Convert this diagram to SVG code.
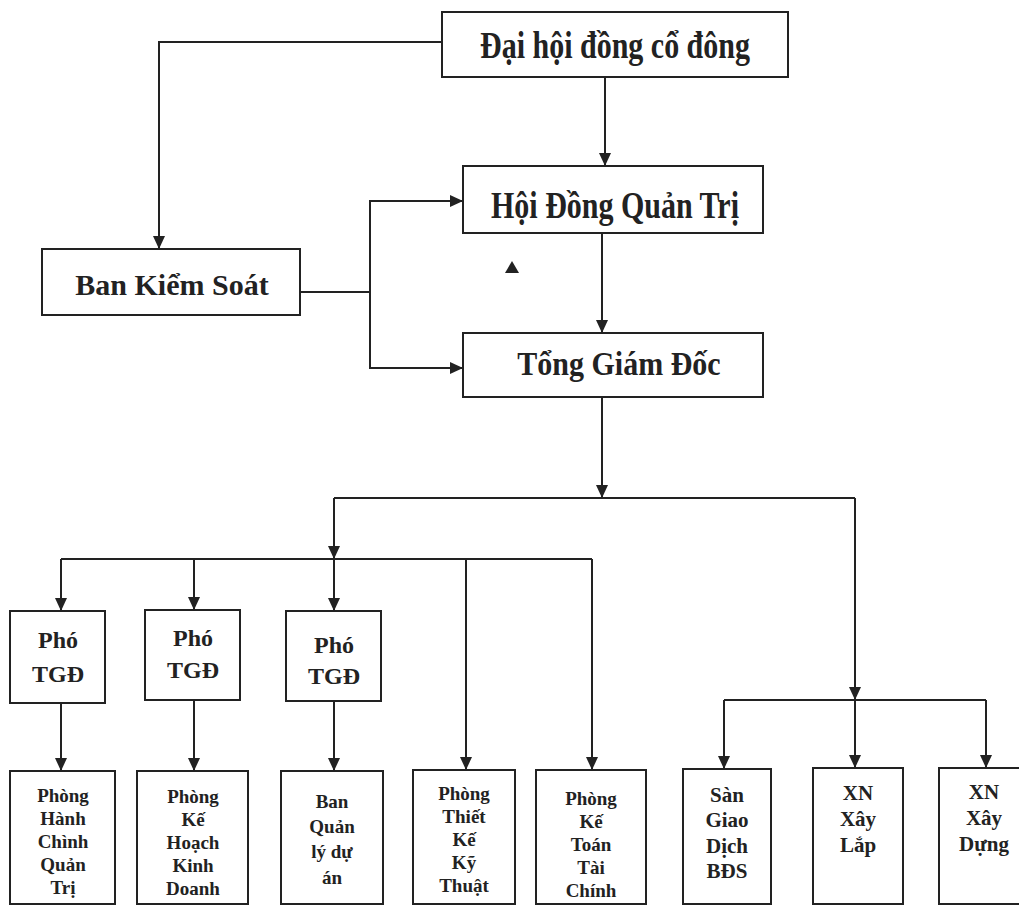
<svg xmlns="http://www.w3.org/2000/svg" width="1019" height="907" viewBox="0 0 1019 907">
<style>
rect{fill:#fff;stroke:#222;stroke-width:2}
.c path{fill:none;stroke:#222;stroke-width:2}
text{font-family:"Liberation Serif","Times New Roman",serif;font-weight:bold;fill:#222;text-anchor:middle}
.big{font-size:30px}
.mid{font-size:24px}
.sm{font-size:19px}
.sm2{font-size:21px}
</style>
<defs>
<marker id="ah" markerWidth="13" markerHeight="12" refX="13" refY="6" orient="auto" markerUnits="userSpaceOnUse"><path d="M0,0 L13,6 L0,12 Z" fill="#222"/></marker>
</defs>
<rect x="0" y="0" width="1019" height="907" style="stroke:none;fill:#fff"/>
<g class="c" id="connectors">
<path d="M442,42 H159 V249" marker-end="url(#ah)"/>
<path d="M605,77 V166" marker-end="url(#ah)"/>
<path d="M300,292 H370"/>
<path d="M370,292 V201 H463" marker-end="url(#ah)"/>
<path d="M370,292 V368 H463" marker-end="url(#ah)"/>
<path d="M602,233 V333" marker-end="url(#ah)"/>
<path d="M602,397 V498" marker-end="url(#ah)"/>
<path d="M334,498 H855"/>
<path d="M334,498 V559" marker-end="url(#ah)"/>
<path d="M61,559 H592"/>
<path d="M61,559 V611" marker-end="url(#ah)"/>
<path d="M194,559 V610" marker-end="url(#ah)"/>
<path d="M334,559 V611" marker-end="url(#ah)"/>
<path d="M466,559 V770" marker-end="url(#ah)"/>
<path d="M592,559 V770" marker-end="url(#ah)"/>
<path d="M61,703 V771" marker-end="url(#ah)"/>
<path d="M194,700 V771" marker-end="url(#ah)"/>
<path d="M334,701 V771" marker-end="url(#ah)"/>
<path d="M855,498 V700" marker-end="url(#ah)"/>
<path d="M724,700 H986"/>
<path d="M724,700 V769" marker-end="url(#ah)"/>
<path d="M855,700 V768" marker-end="url(#ah)"/>
<path d="M986,700 V768" marker-end="url(#ah)"/>
</g>
<polygon points="505,273 519,273 512,261" fill="#222"/>
<g id="dhcd"><rect x="442" y="12" width="346" height="65"/><text class="big" transform="translate(615,58) scale(1,1.25)">Đại hội đồng cổ đông</text></g>
<g id="hdqt"><rect x="463" y="166" width="300" height="67"/><text class="big" transform="translate(615,218) scale(1,1.25)">Hội Đồng Quản Trị</text></g>
<g id="tgd"><rect x="463" y="333" width="300" height="64"/><text class="big" transform="translate(619,375) scale(1,1.12)">Tổng Giám Đốc</text></g>
<g id="bks"><rect x="42" y="249" width="258" height="66"/><text class="big" x="172" y="295">Ban Kiểm Soát</text></g>
<g id="pho1"><rect x="10" y="611" width="95" height="92"/><text class="mid" x="58" y="648">Phó</text><text class="mid" x="58" y="682">TGĐ</text></g>
<g id="pho2"><rect x="145" y="610" width="95" height="90"/><text class="mid" x="193" y="646">Phó</text><text class="mid" x="193" y="678">TGĐ</text></g>
<g id="pho3"><rect x="286" y="611" width="95" height="90"/><text class="mid" x="334" y="653">Phó</text><text class="mid" x="334" y="684">TGĐ</text></g>
<g id="hcqt"><rect x="10" y="771" width="105" height="133"/><text class="sm" x="63" y="802">Phòng</text><text class="sm" x="63" y="825">Hành</text><text class="sm" x="63" y="848">Chình</text><text class="sm" x="63" y="871">Quản</text><text class="sm" x="63" y="894">Trị</text></g>
<g id="khkd"><rect x="137" y="771" width="111" height="133"/><text class="sm" x="193" y="803">Phòng</text><text class="sm" x="193" y="826">Kế</text><text class="sm" x="193" y="849">Hoạch</text><text class="sm" x="193" y="872">Kinh</text><text class="sm" x="193" y="895">Doanh</text></g>
<g id="bqlda"><rect x="281" y="771" width="102" height="133"/><text class="sm" x="332" y="808">Ban</text><text class="sm" x="332" y="833">Quản</text><text class="sm" x="332" y="858">lý dự</text><text class="sm" x="332" y="884">án</text></g>
<g id="tkkt"><rect x="413" y="770" width="102" height="134"/><text class="sm" x="464" y="800">Phòng</text><text class="sm" x="464" y="823">Thiết</text><text class="sm" x="464" y="846">Kế</text><text class="sm" x="464" y="869">Kỹ</text><text class="sm" x="464" y="892">Thuật</text></g>
<g id="ktc"><rect x="536" y="770" width="110" height="134"/><text class="sm" x="591" y="805">Phòng</text><text class="sm" x="591" y="828">Kế</text><text class="sm" x="591" y="851">Toán</text><text class="sm" x="591" y="874">Tài</text><text class="sm" x="591" y="897">Chính</text></g>
<g id="sgd"><rect x="683" y="769" width="88" height="135"/><text class="sm2" x="727" y="802">Sàn</text><text class="sm2" x="727" y="827">Giao</text><text class="sm2" x="727" y="853">Dịch</text><text class="sm2" x="727" y="878">BĐS</text></g>
<g id="xnxl"><rect x="813" y="768" width="90" height="136"/><text class="sm2" x="858" y="800">XN</text><text class="sm2" x="858" y="826">Xây</text><text class="sm2" x="858" y="852">Lắp</text></g>
<g id="xnxd"><rect x="939" y="768" width="90" height="136"/><text class="sm2" x="984" y="799">XN</text><text class="sm2" x="984" y="825">Xây</text><text class="sm2" x="984" y="851">Dựng</text></g>
</svg>
